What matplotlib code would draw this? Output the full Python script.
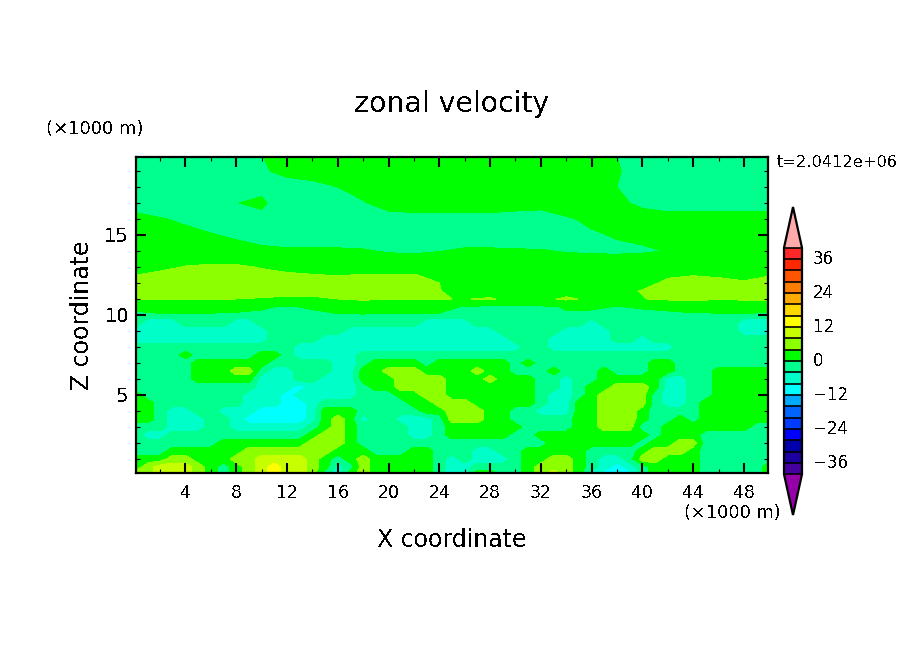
import matplotlib
matplotlib.use("Agg")
from matplotlib import pyplot as plt
from matplotlib.colors import ListedColormap, BoundaryNorm
from matplotlib.ticker import MultipleLocator
from matplotlib.transforms import ScaledTranslation
import numpy as np

plt.rcParams['font.family'] = ['DejaVu Sans']
plt.rcParams['text.antialiased'] = False

W, H = 904, 654

# lower part (z <= 10), read every 1 km in x and 0.5 km in z
x_low = [0.1] + list(range(1, 50)) + [49.9]
z_low = [0.125, 0.5, 1, 1.5, 2, 2.5, 3, 3.5, 4, 4.5, 5, 5.5, 6, 6.5, 7, 7.5, 8, 8.5, 9, 9.5, 10]

# velocity at the middle of each colour band
band_mid = {'c': -10, 'a': -6, 's': -2, 'g': 2, 'h': 6, 'y': 10, 'Y': 14}

# colour band seen at each grid point, bottom row first, groups of 10 columns
low_rows = [
    "hhyyyhgsgh yYyyhsaghg ggggscaggs sghyhgaccc sggggsssssg",
    "ghyyyhgsgh yYyyhgashg ggggsaasss sghhhgsaca sggggsssssg",
    "ggghhggghh yyyyhgsghg ggggsasaaa sgghhgsaas hhgggssssss",
    "sssggggggh hhhhhhgggs ssggsssaas sgggggssss ghhhgssssss",
    "sssssssggg gggghhhgss ssssssssss sssggggggg sgghhssssss",
    "saasssssss ssssghhgss ssaasggggg ssgggggggg gsgggssssss",
    "sssaaassaa aaaasghgss ssaasggggg gssssgghhh ssgggggggss",
    "ggsaaassac ccccaghgas saaashhhgg sssssgghhh gssgsgggggg",
    "ggsaassaaa ccccagggss sssgghhhgg ssaaagghhh gssssgggggg",
    "ggsssssssa aaccasssss ssgghhhggg ggsaagghhh hsaasgggggg",
    "gssssssssa aacaaaaass sgghhggggg ggsaasghhh hsaassggggg",
    "ssssssssss aaacaaaasg ghhhhggggg ggssasgghh hgaassggggg",
    "sssssggggg aaassaaagg ghhhhggghg ggssassggg ggaassggggg",
    "sssssggghh saasssaagg hhhgggghgg sssgsssgss sggsssggggg",
    "sssssggggg gsssssaasg gggsgggggg sgssssssss sggssssssss",
    "ssssgsssss ggsaaaaass ssssssssss ssssssssss sssssssssss",
    "ssssssssss sssaaaaaaa aaaaaaaaaa assaaaaaaa aaassssssss",
    "aaaaaaaaaa assssaaaaa aaaaaaaaaa sssaaaaass assssssssss",
    "aaaaaaaaaa assssssaaa aaaaaaaaas ssssaaaass ssssssssaaa",
    "saaassssaa ssssssssss sssaaaasss ssssssasss ssssssssaaa",
    "ssssssssss ssssssssss ssssssssss ssssssssss sssssssssss",
]

# upper part (z >= 10), read every 2 km in x
x_high = [0.1] + list(range(2, 49, 2)) + [49.9]
z_high = [10, 10.5, 11, 11.5, 12, 12.5, 13, 14, 15, 16, 17, 18, 19, 19.875]
high_rows = [
    [-0.8, -0.3, -0.2, -0.3, -0.4, -0.5, -1.2, -0.6, -0.2, -0.2, -0.3, -0.2, -0.3, -1, -1.5, -1, -0.6, -0.3, -0.5, -0.3, -0.6, -0.5, -0.4, -0.3, -0.2, -0.5],
    [1, 1.2, 1.2, 1, 0.8, 0.3, -0.3, 0.3, 1, 1.5, 1.2, 1, 1, -0.3, -0.8, -1, -0.5, 0.2, 0.3, -0.1, 0.2, 0.5, 1, 1, 1, 1],
    [4.3, 4, 4.3, 4.2, 4, 3.8, 3.5, 3.5, 4, 4.5, 4, 4.3, 4.1, 3.9, 4.3, 3, 3, 4.6, 3.3, 3.5, 3.9, 4.5, 4.8, 4.2, 4.5, 4.5],
    [5.5, 5.5, 5.5, 5.5, 5.2, 5, 5, 5, 5, 5, 5, 5, 4.1, 3, 2.5, 2.5, 2.5, 2.5, 3, 3.5, 4.1, 5, 5.5, 5.5, 5.5, 5.5],
    [5, 5, 6, 6, 5.5, 5.5, 5.5, 5, 5, 5, 5, 5, 4, 3, 3, 3, 3, 3, 3, 3, 3.5, 4.3, 5, 5, 4.2, 5],
    [4, 5, 5.5, 5.5, 5.2, 4.8, 4.5, 4.1, 3.9, 4.1, 4.2, 4.1, 3.5, 2.5, 2, 2, 2, 2, 2, 2.2, 2.5, 3.8, 3.9, 3.5, 3.5, 3.8],
    [2.5, 3, 4.2, 4.5, 4.5, 3.8, 3, 3, 2.5, 2.5, 2.5, 2.5, 2.5, 2, 2, 2, 2, 2, 2, 2, 2, 2, 2.5, 2.5, 2.5, 2.5],
    [1.5, 1.5, 1.5, 1.5, 1.2, 0.8, 0.5, 0.5, 0.5, 0.3, -0.3, -0.5, -0.1, 0.5, 0.5, 0.3, 0.2, -0.2, -0.4, -0.5, -0.3, 0.1, 0.5, 1, 1, 1],
    [1.5, 1.2, 0.8, 0.2, -0.5, -1.5, -2, -2, -2, -2, -2, -2, -2, -2, -2, -2, -1.5, -1, -0.3, 0.2, 0.5, 1, 1, 1, 0.8, 0.8],
    [1, 0.2, -0.5, -1.5, -1.2, -0.6, -2, -2, -2, -2, -1, -1, -1, -1, -1, -1.5, -2, -0.3, 0.5, 0.8, 1, 0.8, 0.8, 0.8, 0.8, 0.8],
    [-1.5, -2, -2, -1.5, -0.05, 0.4, -1.5, -1.5, -1, -0.2, 1, 1.5, 1.5, 1.5, 1.5, 1.5, 1.5, 1.5, 1.5, 0.5, -0.5, -1, -1, -1, -1, -1],
    [-2, -2, -2, -2, -1.2, -0.6, -1.5, -1, 0, 1, 2, 2, 2, 2, 2, 2, 2, 2, 1.5, 0, -1.5, -2, -2, -2, -2, -2],
    [-2, -2, -2, -2, -2, -0.5, 1, 1.5, 2, 2, 2, 2, 2, 2, 2, 2, 2, 2, 1, 0.3, -1.5, -2, -2, -2, -2, -2],
    [-2, -2, -2, -2, -2, -0.1, 1.5, 1.5, 1.5, 1.5, 1.5, 1.5, 1.5, 1.5, 1.5, 1.5, 1.5, 1.5, 1, 0, -2, -2, -2, -2, -2, -2],
]

levels = list(range(-40, 41, 4))
band_colors = ['#4600a0', '#1e00a0', '#0000aa', '#0000ff', '#003cff', '#0064ff', '#00aaff', '#00ffff', '#00ffc8', '#00ff8c',
               '#00ff00', '#8cff00', '#c8ff00', '#ffff00', '#ffd700', '#ffaa00', '#ff7d00', '#ff5500', '#ff2800', '#ff2828']
under_color = '#9600aa'
over_color = '#ffaaaa'

x_ticks = list(range(4, 49, 4))
z_ticks = [5, 10, 15]
cbar_ticks = [-36, -24, -12, 0, 12, 24, 36]


def px_axes(fig, left, top, right, bottom):
    return fig.add_axes([left / W, 1 - bottom / H, (right - left) / W, (bottom - top) / H])


def px_text(fig, x, y, s, **kw):
    kw.setdefault('ha', 'center')
    kw.setdefault('va', 'center')
    fig.text(x / W, 1 - y / H, s, **kw)


u_low = np.array([[band_mid[c] for c in row.replace(' ', '')] for row in low_rows], dtype=float)
u_high = np.array(high_rows, dtype=float)

fig = plt.figure(figsize=(W / 100, H / 100), dpi=100)
ax = px_axes(fig, 136, 157, 768, 473)

cmap = ListedColormap(band_colors)
cmap.set_under(under_color)
cmap.set_over(over_color)
norm = BoundaryNorm(levels, cmap.N)

cf = ax.contourf(x_low, z_low, u_low, levels=levels, cmap=cmap, norm=norm, extend='both', antialiased=False)
ax.contourf(x_high, z_high, u_high, levels=levels, cmap=cmap, norm=norm, extend='both', antialiased=False)

ax.set_xlim(x_low[0], x_low[-1])
ax.set_ylim(z_low[0], z_high[-1])
ax.set_xticks(x_ticks)
ax.set_yticks(z_ticks)
ax.xaxis.set_minor_locator(MultipleLocator(2))
ax.yaxis.set_minor_locator(MultipleLocator(1))
ax.tick_params(which='major', direction='in', top=True, right=True, length=7, width=1.5, labelsize=12.5, pad=8)
ax.tick_params(which='minor', direction='in', top=True, right=True, length=3.2, width=0.8)
ax.tick_params(axis='y', which='major', labelsize=14, pad=5)
for sp in ax.spines.values():
    sp.set_linewidth(1.6)

# colour bar, cax includes the two triangles
cax = px_axes(fig, 784, 207, 802, 515)
cb = fig.colorbar(cf, cax=cax, extend='both', extendfrac=0.18, drawedges=True, ticks=cbar_ticks)
cb.outline.set_linewidth(1.6)
cb.dividers.set_linewidth(1.2)
cb.ax.minorticks_off()
cb.ax.tick_params(length=0, labelsize=12, pad=8)
for lab in cb.ax.get_yticklabels():
    lab.set_transform(lab.get_transform() + ScaledTranslation(0, 2 / 100, fig.dpi_scale_trans))

px_text(fig, 452, 104, 'zonal velocity', fontsize=20.4)
px_text(fig, 95, 129, '(×1000 m)', fontsize=13)
px_text(fig, 732, 513, '(×1000 m)', fontsize=12.8)
px_text(fig, 837, 162, 't=2.0412e+06', fontsize=11.7)
px_text(fig, 452, 540, 'X coordinate', fontsize=17)
px_text(fig, 82, 315, 'Z coordinate', fontsize=17, rotation=90)

fig.savefig('out.png', dpi=100)
